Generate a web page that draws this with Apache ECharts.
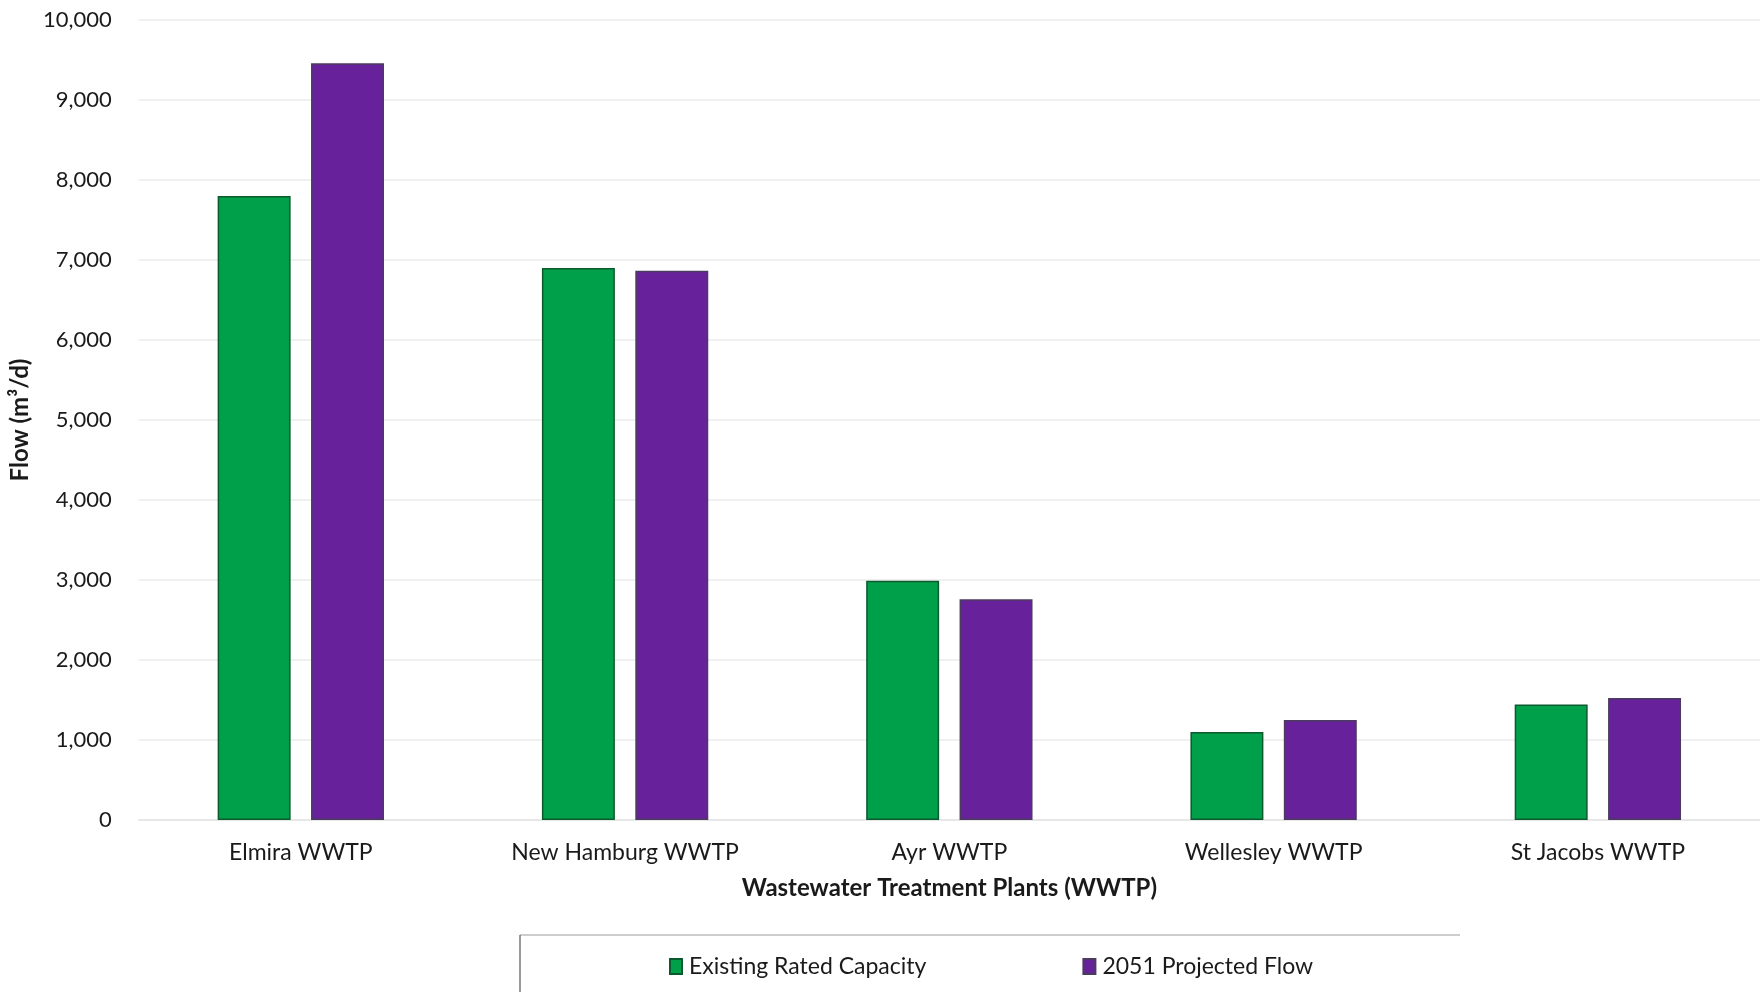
<!DOCTYPE html>
<html>
<head>
<meta charset="utf-8">
<script src="https://cdn.jsdelivr.net/npm/echarts@6/dist/echarts.min.js"></script>
<style>
html,body{margin:0;padding:0;background:#fff;}
#chart{width:1760px;height:992px;}
</style>
</head>
<body>
<div id="chart"></div>
<script>
const categories = ['Elmira WWTP', 'New Hamburg WWTP', 'Ayr WWTP', 'Wellesley WWTP', 'St Jacobs WWTP'];
const existingRatedCapacity = [7800, 6900, 2990, 1100, 1445];
const projectedFlow2051 = [9460, 6865, 2760, 1250, 1525];
const seriesNames = ['Existing Rated Capacity', '2051 Projected Flow'];
const xAxisTitle = 'Wastewater Treatment Plants (WWTP)';
const yAxisTitle = 'Flow (m³/d)';

const FONT = 'Lato, "Open Sans", sans-serif';
const chart = echarts.init(document.getElementById('chart'));
chart.setOption({
  animation: false,
  backgroundColor: '#fff',
  grid: { left: 136, right: 0, top: 20, bottom: 172, containLabel: false },
  legend: {
    data: seriesNames,
    left: 664, top: 950,
    icon: 'rect', itemWidth: 12, itemHeight: 15, itemGap: 156,
    textStyle: { fontFamily: FONT, fontSize: 23, color: '#1a1a1a', padding: [0,0,0,2] }
  },
  xAxis: {
    type: 'category', data: categories,
    name: xAxisTitle, nameLocation: 'middle', nameGap: 56,
    nameTextStyle: { fontFamily: FONT, fontSize: 24, fontWeight: 'bold', color: '#1a1a1a' },
    axisLine: { show: true, lineStyle: { color: '#e4e4e4', width: 1.5 } },
    axisTick: { show: false },
    axisLabel: { fontFamily: FONT, fontSize: 23, color: '#1a1a1a', margin: 21 }
  },
  yAxis: {
    type: 'value', min: 0, max: 10000, interval: 1000,
    name: yAxisTitle, nameLocation: 'middle', nameGap: 99, nameRotate: 90,
    nameTextStyle: { fontFamily: FONT, fontSize: 24, fontWeight: 'bold', color: '#1a1a1a' },
    axisLine: { show: false }, axisTick: { show: false },
    axisLabel: {
      fontFamily: FONT, fontSize: 22, color: '#1a1a1a', margin: 27,
      formatter: v => v.toLocaleString('en-US')
    },
    splitLine: { lineStyle: { color: '#ebebeb', width: 1.5 } }
  },
  series: [
    {
      name: seriesNames[0], type: 'bar', data: existingRatedCapacity,
      barWidth: '22.5%', barGap: '28%',
      itemStyle: { color: '#00a04b', borderColor: '#0b5a2e', borderWidth: 1.5 }
    },
    {
      name: seriesNames[1], type: 'bar', data: projectedFlow2051,
      barWidth: '22.5%',
      itemStyle: { color: '#67219b', borderColor: '#4b3b5e', borderWidth: 1.5 }
    }
  ],
  graphic: [
    { type: 'line', shape: { x1: 520, y1: 935, x2: 1460, y2: 935 }, style: { stroke: '#bdbdbd', lineWidth: 1.5 } },
    { type: 'line', shape: { x1: 520, y1: 935, x2: 520, y2: 992 }, style: { stroke: '#555', lineWidth: 1.2 } }
  ]
});
</script>
</body>
</html>
